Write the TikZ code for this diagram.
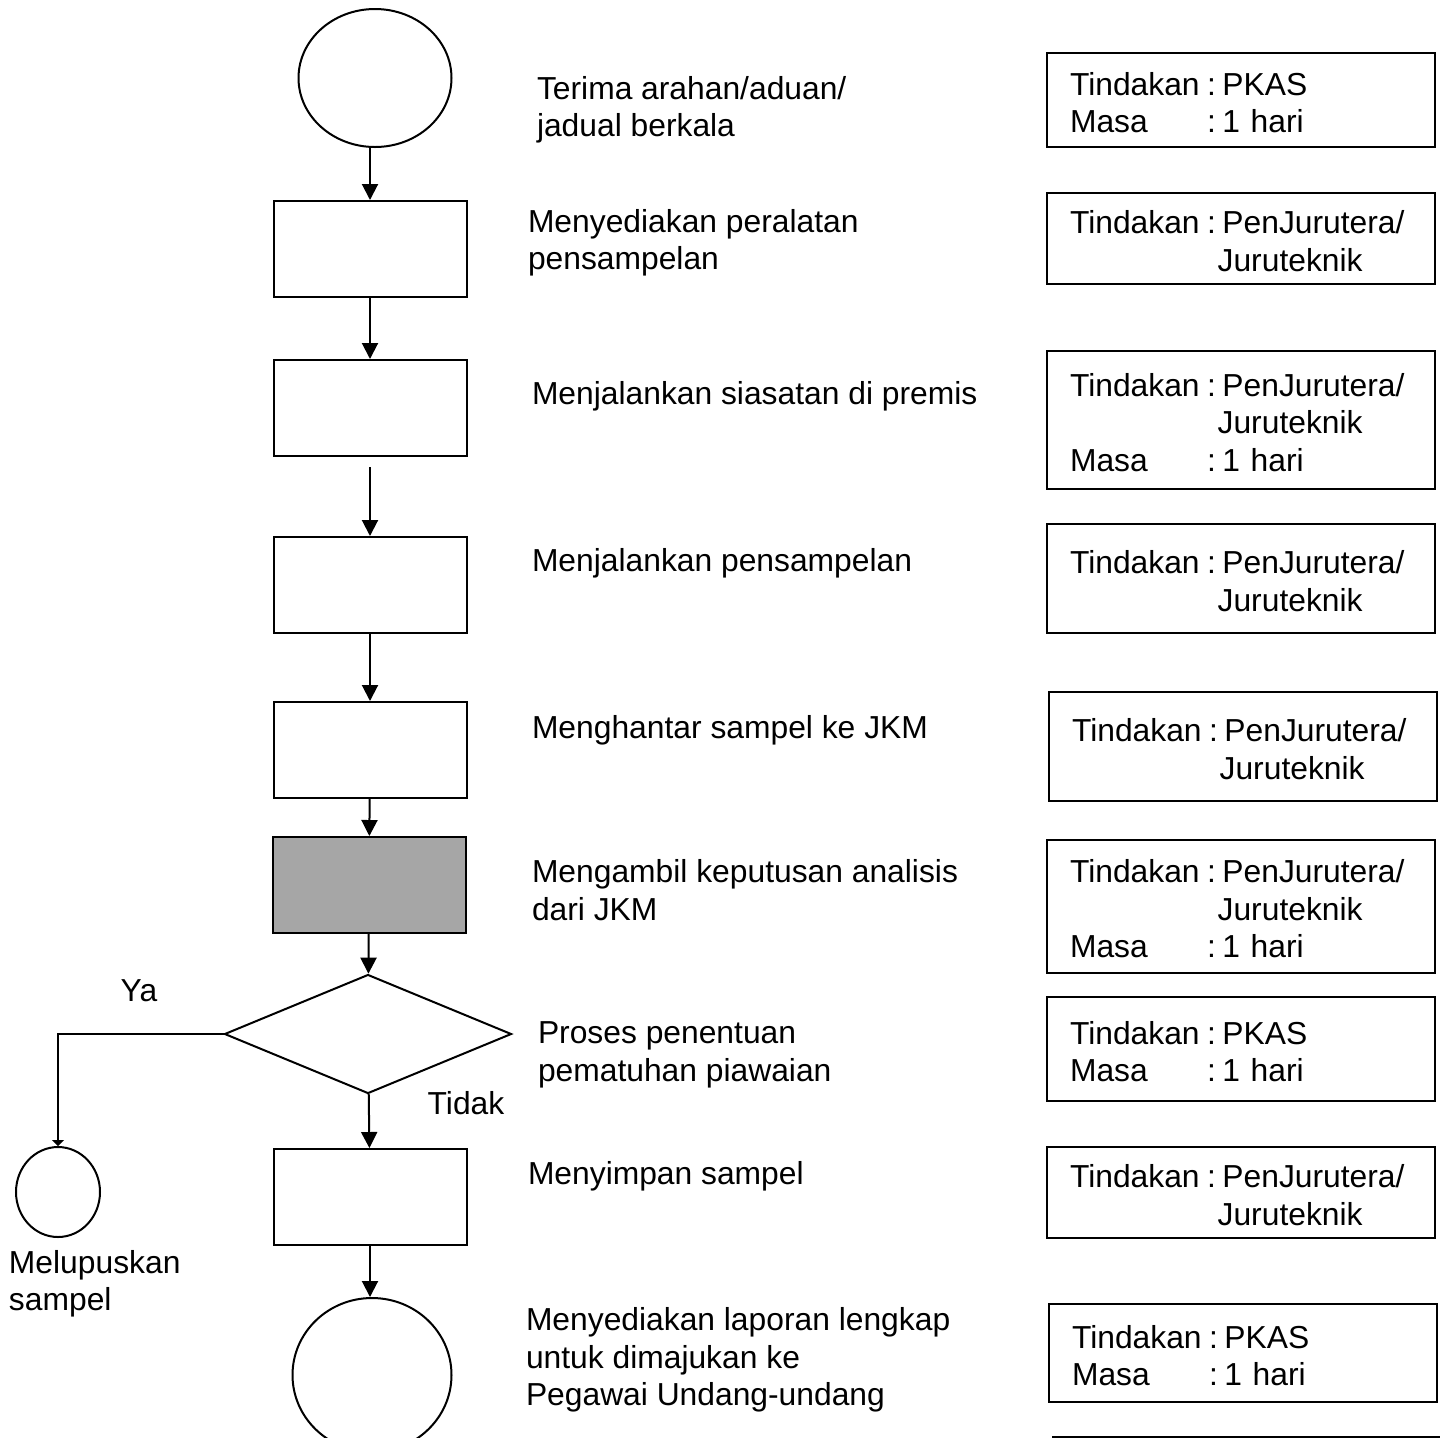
\documentclass[tikz,border=0pt]{standalone}
\usepackage{fontspec}
\setmainfont{Liberation Sans}
\usetikzlibrary{shapes.geometric,arrows.meta}
\definecolor{stepgrey}{HTML}{A6A6A6}
\newcommand{\infotab}[1]{\begin{tabular}{@{}l@{\hspace{3.7pt}}l@{}}\rule{0pt}{19.5pt}#1\end{tabular}}
\newcommand{\is}{:\hspace{3.3pt}}
\begin{document}
\begin{tikzpicture}[x=0.5pt,y=-0.5pt,
    every node/.style={font=\fontsize{15.9pt}{18.75pt}\selectfont,
    line width=1pt},
    stepbox/.style={draw,rectangle,minimum width=96.5pt,
    minimum height=48pt,inner sep=0pt},
    endpoint/.style={draw,ellipse,inner sep=0pt},
    decision/.style={draw,diamond,inner sep=0pt,
    minimum width=143.5pt,minimum height=59.5pt},
    caption/.style={anchor=west,align=left,inner sep=0pt},
    infobox/.style={draw,rectangle,text width=171pt,
    inner xsep=11.5pt,inner ysep=0pt},
    flow/.style={-{Triangle[length=8pt,width=8pt]},line width=1pt}]
    \useasboundingbox (0,0) rectangle (1440,1437);
    \clip (0,0) rectangle (1440,1437);
    \node[endpoint,minimum width=76.5pt,minimum height=69pt] (start) at (375,78) {};
    \node[stepbox] (prep) at (370,249) {};
    \node[stepbox] (probe) at (370,408) {};
    \node[stepbox] (sample) at (370,585) {};
    \node[stepbox] (send) at (370,750) {};
    \node[stepbox,fill=stepgrey] (result) at (369,885) {};
    \node[decision] (check) at (368,1034) {};
    \node[stepbox] (store) at (370,1197) {};
    \node[endpoint,minimum width=79.5pt,minimum height=77pt] (report) at (372,1375) {};
    \node[endpoint,minimum width=42pt,minimum height=45pt] (dispose) at (58,1192) {};
    \draw[flow] (start.south -| prep) -- (prep);
    \draw[flow] (prep) -- (probe);
    \draw[flow,shorten <=5pt] (probe) -- (sample);
    \draw[flow] (sample) -- (send);
    \draw[flow] (send) -- (result);
    \draw[flow] (result) -- (check);
    \draw[flow] (check) -- (store);
    \draw[flow] (store) -- (store |- report.north);
    \draw[-{Triangle[length=3pt,width=6pt]},line width=1pt] (check.west) -| (dispose.north);
    \node (ya) at (139,991) {Ya};
    \node (tidak) at (466,1103) {Tidak};
    \node[caption] (disposetext) at (8,1284) {Melupuskan\\sampel};
    \node[caption] (t1) at (536,110) {Terima arahan/aduan/\\jadual berkala};
    \node[caption] (t2) at (527,243) {Menyediakan peralatan\\pensampelan};
    \node[caption] (t3) at (531,396) {Menjalankan siasatan di premis};
    \node[caption] (t4) at (531,563) {Menjalankan pensampelan};
    \node[caption] (t5) at (531,730) {Menghantar sampel ke JKM};
    \node[caption] (t6) at (531,890) {Mengambil keputusan analisis\\dari JKM};
    \node[caption] (t7) at (537,1055) {Proses penentuan\\pematuhan piawaian};
    \node[caption] (t8) at (527,1176) {Menyimpan sampel};
    \node[caption] (t9) at (525,1360) {Menyediakan laporan lengkap\\untuk dimajukan ke\\Pegawai Undang-undang};
    \node[infobox,minimum height=47pt] (i1) at (1241,100)
    {\infotab{Tindakan& \is PKAS\\Masa& \is 1 hari}};
    \node[infobox,minimum height=45.5pt] (i2) at (1241,238.5)
    {\infotab{Tindakan& \is PenJurutera/\\& \hspace{5.3pt}Juruteknik}};
    \node[infobox,minimum height=69pt] (i3) at (1241,420)
    {\infotab{Tindakan& \is PenJurutera/\\& \hspace{5.3pt}Juruteknik\\Masa& \is 1 hari}};
    \node[infobox,minimum height=54.5pt] (i4) at (1241,578.5)
    {\infotab{Tindakan& \is PenJurutera/\\& \hspace{5.3pt}Juruteknik}};
    \node[infobox,minimum height=54.5pt] (i5) at (1243,746.5)
    {\infotab{Tindakan& \is PenJurutera/\\& \hspace{5.3pt}Juruteknik}};
    \node[infobox,minimum height=66.5pt] (i6) at (1241,906.5)
    {\infotab{Tindakan& \is PenJurutera/\\& \hspace{5.3pt}Juruteknik\\Masa& \is 1 hari}};
    \node[infobox,minimum height=52pt] (i7) at (1241,1049)
    {\infotab{Tindakan& \is PKAS\\Masa& \is 1 hari}};
    \node[infobox,minimum height=45.5pt] (i8) at (1241,1192.5)
    {\infotab{Tindakan& \is PenJurutera/\\& \hspace{5.3pt}Juruteknik}};
    \node[infobox,minimum height=49pt] (i9) at (1243,1353)
    {\infotab{Tindakan& \is PKAS\\Masa& \is 1 hari}};
    \node[infobox,minimum height=50pt,anchor=north] (i10) at (1247,1436) {};
\end{tikzpicture}
\end{document}
